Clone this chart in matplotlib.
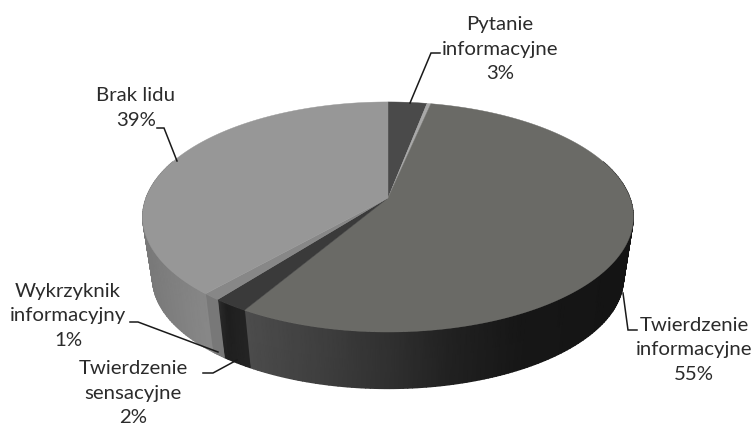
import numpy as np
import matplotlib
matplotlib.use("Agg")
import matplotlib.pyplot as plt
from matplotlib.patches import Polygon

names = ["Pytanie\ninformacyjne\n3%", "", "Twierdzenie\ninformacyjne\n55%",
         "Twierdzenie\nsensacyjne\n2%", "Wykrzyknik\ninformacyjny\n1%", "Brak lidu\n39%"]
values = [3.0, 0.3, 55.2, 2.0, 1.0, 38.5]
top_colors = ["#4a4a4a", "#a8a8a8", "#6a6a66", "#3a3a3a", "#878787", "#979797"]

# grey level of the side wall as it runs across the picture (x stop, level)
side_x = [[0, 753], [0, 753], [245, 330, 400, 450, 520, 620],
          [218, 226, 245], [205, 220], [143, 205]]
side_g = [[.23, .23], [.5, .5], [.30, .24, .18, .13, .09, .08],
          [.18, .12, .14], [.47, .47], [.47, .53]]

label_pos = [(500, 49), None, (694, 350), (133, 393), (68, 316), (136, 108)]
leaders = [[(440, 53), (431, 53), (410, 103)], None,
           [(637, 330), (628, 330), (623, 293)],
           [(203, 373), (213, 373), (237, 360)],
           [(130, 322), (138, 322), (218, 352)],
           [(157, 128), (164, 128), (177, 161)]]

CX, CY = 388.0, 198.0
K, B, A = 242.0, 111.9, 0.165
DEPTH, SHRINK = 62.0, 0.96


def project(theta, bottom=False):
    u, v = np.sin(theta), -np.cos(theta)
    d = 1 - A * v
    x, y = K * u / d, B * v / d
    if bottom:
        return CX + SHRINK * x, CY + DEPTH + SHRINK * y
    return CX + x, CY + y


fig = plt.figure(figsize=(7.53, 4.25), dpi=100)
ax = fig.add_axes([0, 0, 1, 1])
ax.set_xlim(0, 753)
ax.set_ylim(425, 0)
ax.axis("off")

edges = np.cumsum([0.0] + values) / sum(values) * 2 * np.pi

# side wall: only the part facing the viewer
lo, hi = np.radians(70), np.radians(290)
for i in range(len(values)):
    a, b = max(edges[i], lo), min(edges[i + 1], hi)
    if b <= a:
        continue
    t = np.linspace(a, b, max(6, int((b - a) * 60)))
    xt, yt = project(t)
    xb, yb = project(t, True)
    X = np.vstack([xt, xb])
    Y = np.vstack([yt, yb])
    G = np.interp(X, side_x[i], side_g[i])
    ax.pcolormesh(X, Y, G, shading="gouraud", cmap="gray", vmin=0, vmax=1,
                  antialiased=True)

# top face
for i in range(len(values)):
    t = np.linspace(edges[i], edges[i + 1], max(3, int(values[i] * 4)))
    xs, ys = project(t)
    pts = [(CX, CY)] + list(zip(xs, ys))
    ax.add_patch(Polygon(pts, closed=True, fc=top_colors[i], ec=top_colors[i], lw=0.3, zorder=3))

# labels and leaders
for name, pos, lead in zip(names, label_pos, leaders):
    if pos is None:
        continue
    ax.text(pos[0], pos[1], name, ha="center", va="center", fontsize=14.7,
            family="Lato", color="#2b2b2b", linespacing=1.55, zorder=5)
    ax.plot(*zip(*lead), color="#1a1a1a", lw=1.1, solid_joinstyle="miter", zorder=4)

fig.savefig("out.png", dpi=100)
